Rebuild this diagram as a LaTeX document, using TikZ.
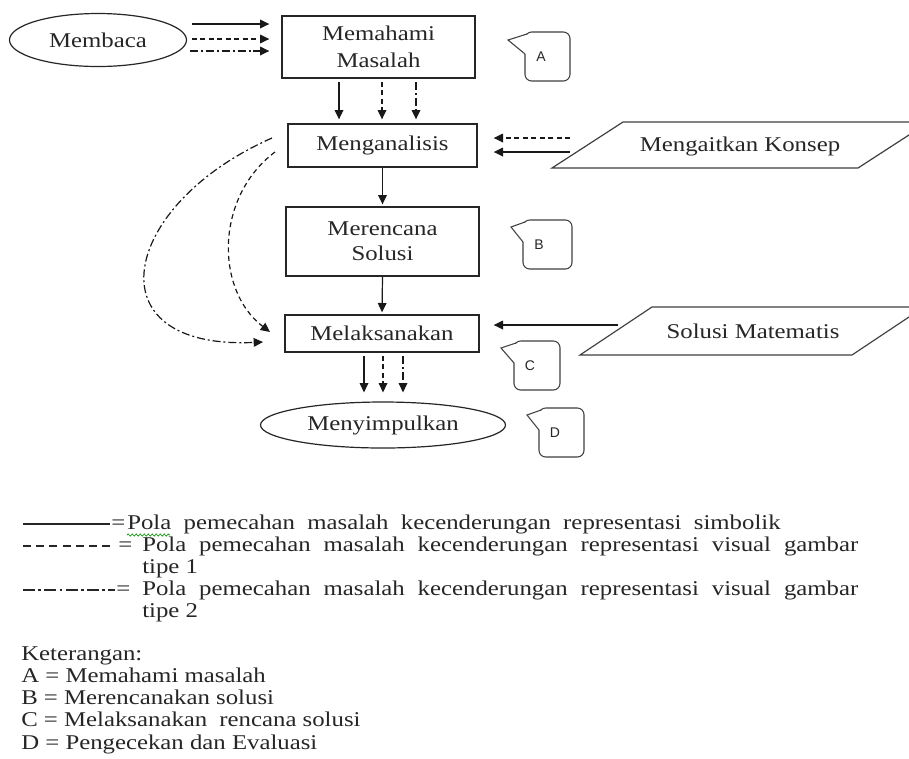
\documentclass[tikz,border=0pt]{standalone}
\usepackage{fontspec}
\setmainfont{Liberation Serif}
\newfontfamily\serfam[FakeStretch=1.18]{Liberation Serif}
\newfontfamily\tagfam{Liberation Sans}
\usetikzlibrary{shapes.geometric,arrows.meta,decorations.pathmorphing}
\newcommand\txtfont{\serfam\fontsize{15.75}{20}\selectfont}
\newcommand\bub[8]{%
  \draw[bubble, rounded corners=5pt] (#2,#3) rectangle (#4,#5);
  \fill[white] (#2-1.5,#3+3) rectangle (#2+1.5,#3+22);
  \draw[bubble, line join=miter] (#2+2,#3+2) -- (#6,#7) -- (#2,#3+22);
  \node[tag] (#1) at (#2+16,{#3+(#5-#3)/2}) {#8};}
\begin{document}
\begin{tikzpicture}[x=0.75pt,y=-0.75pt,
  every node/.style={font=\txtfont, text=black!85},
  box/.style={draw=black!85, line width=1pt, rectangle, inner sep=0pt, align=center},
  oval/.style={draw=black!85, line width=0.9pt, ellipse, inner sep=0pt},
  arr/.style={-{Triangle[length=7pt,width=6.5pt]}, line width=0.9pt, draw=black!90},
  dsh/.style={dash pattern=on 3.75pt off 2.6pt},
  ddt/.style={dash pattern=on 6pt off 2.2pt on 1.5pt off 2.2pt},
  para/.style={draw=black!75, line width=0.9pt},
  bubble/.style={draw=black!75, line width=0.8pt},
  tag/.style={font=\tagfam\fontsize{10.5}{12}\selectfont, text=black!85, inner sep=0pt},
  leg/.style={anchor=base west, inner sep=0pt}
]
\fill[white] (0,0) rectangle (909,758);
\useasboundingbox (0,0) rectangle (909,758);
\clip (0,0) rectangle (909,758);

% main nodes
\node[oval, minimum width=132.75pt, minimum height=39.75pt] (membaca) at (98,40) {Membaca};
\node[box, minimum width=144.75pt, minimum height=46.5pt, font=\serfam\fontsize{15.75}{20.25}\selectfont] (memahami) at (378.5,47) {Memahami\\Masalah};
\node[box, minimum width=141.75pt, minimum height=32.25pt] (menganalisis) at (382.5,145.5) {Menganalisis};
\node[box, minimum width=144.75pt, minimum height=51.75pt, font=\serfam\fontsize{15.75}{18.75}\selectfont] (merencana) at (382.5,241.5) {Merencana\\Solusi};
\node[box, minimum width=145.5pt, minimum height=27.75pt] (melak) at (382,333.5) {Melaksanakan};
\node[oval, minimum width=183.75pt, minimum height=34.5pt] (menyimp) at (383,425) {Menyimpulkan};

% parallelograms
\draw[para] (552,168) -- (623,122) -- (929,122) -- (858,168) -- cycle;
\node (konsep) at (740,146) {Mengaitkan Konsep};
\draw[para] (580,355) -- (652,307) -- (924,307) -- (852,355) -- cycle;
\node (solmat) at (753,331) {Solusi Matematis};

% callouts
\bub{ta}{525}{32}{570}{81}{508}{40}{A}
\bub{tb}{523}{220}{572}{269}{511}{227}{B}
\bub{tc}{514}{341}{560}{390}{501}{348}{C}
\bub{td}{539}{408}{584}{457}{527}{415}{D}

% Membaca -> Memahami
\coordinate (m1) at (192,24);
\coordinate (m2) at (192,39);
\coordinate (m3) at (190,51);
\draw[arr, shorten >=9pt] (m1) -- (m1 -| memahami.west);
\draw[arr, dsh, shorten >=9pt] (m2) -- (m2 -| memahami.west);
\draw[arr, ddt, shorten >=9pt] (m3) -- (m3 -| memahami.west);

% Memahami -> Menganalisis
\coordinate (d1) at (339,82);
\coordinate (d2) at (382,82);
\coordinate (d3) at (416,82);
\draw[arr, shorten >=3pt] (d1) -- (d1 |- menganalisis.north);
\draw[arr, dsh, shorten >=3pt] (d2) -- (d2 |- menganalisis.north);
\draw[arr, ddt, shorten >=3pt] (d3) -- (d3 |- menganalisis.north);

% Konsep -> Menganalisis
\coordinate (k1) at (570,138);
\coordinate (k2) at (570,152);
\draw[arr, dsh, shorten >=12pt] (k1) -- (k1 -| menganalisis.east);
\draw[arr, shorten >=12pt] (k2) -- (k2 -| menganalisis.east);

% vertical chain
\draw[arr, shorten >=1.5pt] (menganalisis.south) -- (merencana.north);
\draw[arr, shorten >=1.5pt] (merencana.south) -- (melak.north);

% Solusi Matematis -> Melaksanakan
\coordinate (s1) at (618,325);
\draw[arr, shorten >=10.5pt] (s1) -- (s1 -| melak.east);

% Melaksanakan -> Menyimpulkan
\coordinate (e1) at (364,356);
\coordinate (e2) at (383,356);
\coordinate (e3) at (403,356);
\draw[arr, shorten >=6.75pt] (e1) -- (e1 |- menyimp.north);
\draw[arr, dsh, shorten >=6.75pt] (e2) -- (e2 |- menyimp.north);
\draw[arr, ddt, shorten >=6.75pt] (e3) -- (e3 |- menyimp.north);

% curved arrows Menganalisis -> Melaksanakan
\coordinate (c1) at (272,138);
\coordinate (c2) at (263,342);
\coordinate (c3) at (275,152);
\coordinate (c4) at (270,332);
\draw[arr, ddt] (c1) .. controls (120,205) and (90,350) .. (c2);
\draw[arr, dsh] (c3) .. controls (215,197) and (215,290) .. (c4);

% legend
\draw[line width=0.8pt, black!85] (23,524) -- (110,524);
\node[leg] (eq1) at (111,529) {=};
\node[leg] (l1) at (127,529) {\makebox[490pt][s]{Pola pemecahan masalah kecenderungan representasi simbolik}};
\draw[green!55!black, line width=0.5pt, decorate, decoration={snake, amplitude=0.8pt, segment length=3pt}] (127,535) -- (170,535);
\draw[line width=0.8pt, black!85, dash pattern=on 6pt off 3.9pt] (23,546) -- (112,546);
\node[leg] (eq2) at (118,551) {=};
\node[leg] (l2) at (142,551) {\makebox[537pt][s]{Pola pemecahan masalah kecenderungan representasi visual gambar}};
\node[leg] (l2b) at (142,573) {tipe 1};
\draw[line width=0.8pt, black!85, dash pattern=on 9pt off 2.5pt on 2pt off 2.5pt] (23,590) -- (115,590);
\node[leg] (eq3) at (116,595) {=};
\node[leg] (l3) at (142,595) {\makebox[537pt][s]{Pola pemecahan masalah kecenderungan representasi visual gambar}};
\node[leg] (l3b) at (142,617) {tipe 2};
\node[leg] (ket) at (21,660) {Keterangan:};
\node[leg] (ka) at (21,682) {A = Memahami masalah};
\node[leg] (kb) at (21,704) {B = Merencanakan solusi};
\node[leg] (kc) at (21,726) {C = Melaksanakan\hspace{4.5pt} rencana solusi};
\node[leg] (kd) at (21,749) {D = Pengecekan dan Evaluasi};
\end{tikzpicture}
\end{document}
